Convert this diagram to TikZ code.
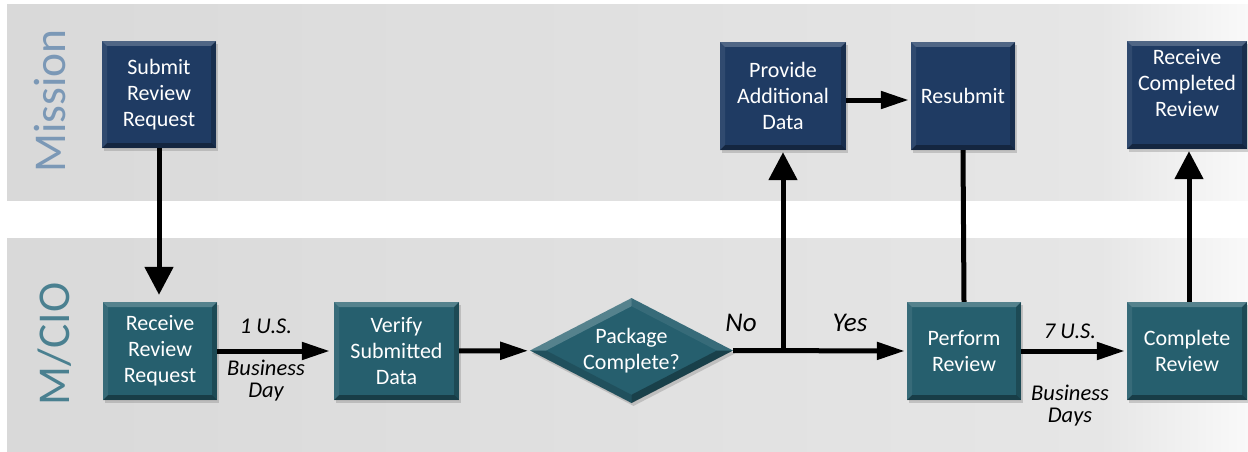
\documentclass[tikz,border=0pt]{standalone}
\usepackage{fontspec}
\setmainfont{Carlito}
\usetikzlibrary{arrows.meta,shapes.geometric,shadows,calc}

\definecolor{laneA}{HTML}{D9D9D9}
\definecolor{laneB}{HTML}{E6E6E6}
\definecolor{laneC}{HTML}{F9F9F9}
\definecolor{navybox}{HTML}{1F3B63}
\definecolor{tealbox}{HTML}{265F6E}
\definecolor{missioncol}{HTML}{7B98B6}
\definecolor{mciocol}{HTML}{4A8090}

\newcommand{\bvl}{5pt}
\newcommand{\boxfont}{\fontsize{22}{26}\selectfont}
\tikzset{
  box/.style={rectangle, inner sep=0pt, text=white,
    font=\boxfont, align=center,
    drop shadow={opacity=0.35, shadow xshift=2pt, shadow yshift=-3pt},
    path picture={
      \coordinate (bnw) at (path picture bounding box.north west);
      \coordinate (bne) at (path picture bounding box.north east);
      \coordinate (bsw) at (path picture bounding box.south west);
      \coordinate (bse) at (path picture bounding box.south east);
      \fill[white,opacity=.22] (bnw) -- (bne) -- ([shift={(-\bvl,-\bvl)}]bne) -- ([shift={(\bvl,-\bvl)}]bnw) -- cycle;
      \fill[black,opacity=.35] (bsw) -- (bse) -- ([shift={(-\bvl,\bvl)}]bse) -- ([shift={(\bvl,\bvl)}]bsw) -- cycle;
      \fill[black,opacity=.22] (bne) -- (bse) -- ([shift={(-\bvl,\bvl)}]bse) -- ([shift={(-\bvl,-\bvl)}]bne) -- cycle;
      \fill[white,opacity=.08] (bnw) -- (bsw) -- ([shift={(\bvl,\bvl)}]bsw) -- ([shift={(\bvl,-\bvl)}]bnw) -- cycle;
    }},
  mbox/.style={box, fill=navybox},
  cbox/.style={box, fill=tealbox},
  flow/.style={line width=5pt, -{Triangle[length=28pt,width=17pt]}, shorten >=2pt},
  vflow/.style={line width=5pt, -{Triangle[length=28pt,width=28pt]}, shorten >=2pt},
  lbl/.style={font=\itshape\fontsize{22.5}{22}\selectfont, align=center},
  yn/.style={font=\itshape\fontsize{27}{27}\selectfont},
  lanelbl/.style={rotate=90, font=\fontsize{45.5}{46}\selectfont},
}

\begin{document}
\begin{tikzpicture}[x=1pt,y=-1pt]
\useasboundingbox (0,0) rectangle (1248,452);

% lanes
\shade[left color=laneA, right color=laneB] (7,5) rectangle (1100,200);
\shade[left color=laneB, right color=laneC] (1100,5) rectangle (1248,200);
\shade[left color=laneA, right color=laneB] (7,238) rectangle (1100,451);
\shade[left color=laneB, right color=laneC] (1100,238) rectangle (1248,451);

\node[lanelbl, text=missioncol] (lm) at (50,101) {Mission};
\node[lanelbl, text=mciocol] (lc) at (55,344) {M/CIO};

% boxes
\node[mbox, minimum width=114pt, minimum height=107pt] (submit) at (159,94.5) {Submit\\Review\\Request};
\node[cbox, minimum width=114pt, minimum height=98pt] (recv) at (160,351) {Receive\\Review\\Request};
\node[cbox, minimum width=125pt, minimum height=98pt] (verify) at (396.5,351) {Verify\\Submitted\\Data};

\node[diamond, inner sep=0pt, minimum width=203pt, minimum height=105pt, fill=tealbox,
      drop shadow={opacity=0.35, shadow xshift=2pt, shadow yshift=-3pt}] (pc) at (631.5,350.5) {};
\coordinate (pin) at ($(pc.center)!0.84!(pc.north)$);
\coordinate (pis) at ($(pc.center)!0.84!(pc.south)$);
\coordinate (pie) at ($(pc.center)!0.84!(pc.east)$);
\coordinate (piw) at ($(pc.center)!0.84!(pc.west)$);
\fill[white,opacity=.22] (pc.west) -- (pc.north) -- (pin) -- (piw) -- cycle;
\fill[white,opacity=.08] (pc.north) -- (pc.east) -- (pie) -- (pin) -- cycle;
\fill[black,opacity=.32] (pc.east) -- (pc.south) -- (pis) -- (pie) -- cycle;
\fill[black,opacity=.15] (pc.south) -- (pc.west) -- (piw) -- (pis) -- cycle;
\node[text=white, font=\boxfont, align=center] (pctext) at (pc.center) {Package\\Complete?};

\node[mbox, minimum width=126pt, minimum height=108pt] (provide) at (783,96) {Provide\\Additional\\Data};
\node[mbox, minimum width=104pt, minimum height=108pt] (resub) at (963,96) {Resubmit};
\node[mbox, minimum width=120pt, minimum height=108pt] (rcr) at (1187,95) {};
\node[text=white, font=\boxfont, align=center] (rcrtext) at (1187,83) {Receive\\Completed\\Review};
\node[cbox, minimum width=114pt, minimum height=98pt] (perform) at (964,351) {Perform\\Review};
\node[cbox, minimum width=120pt, minimum height=98pt] (complete) at (1187,351) {Complete\\Review};

% connectors
\draw[vflow, shorten >=7pt] (submit.south) -- (submit.south |- recv.north);
\draw[flow, shorten >=4pt] (recv) -- (verify);
\draw[flow] (verify) -- (pc);
\coordinate (j) at (pc.east -| provide.south);
\draw[flow] (pc.east) -- (perform.west);
\draw[vflow] (j) -- (provide.south);
\draw[flow] ([yshift=-4pt]provide.east) -- ([yshift=-4pt]resub.west);
\draw[line width=5pt] (resub.south) -- (perform.north);
\draw[flow] (perform) -- (complete);
\draw[vflow] ([xshift=2pt]complete.north) -- ([xshift=2pt]rcr.south);

% labels
\node[lbl] (l1a) at (266,326) {1 U.S.};
\node[lbl] (l1b) at (266,381) {Business\\Day};
\node[yn] (lno) at (741,323) {No};
\node[yn] (lyes) at (850,323) {Yes};
\node[lbl] (l7a) at (1070,331) {7 U.S.};
\node[lbl] (l7b) at (1070,406) {Business\\Days};
\end{tikzpicture}
\end{document}
